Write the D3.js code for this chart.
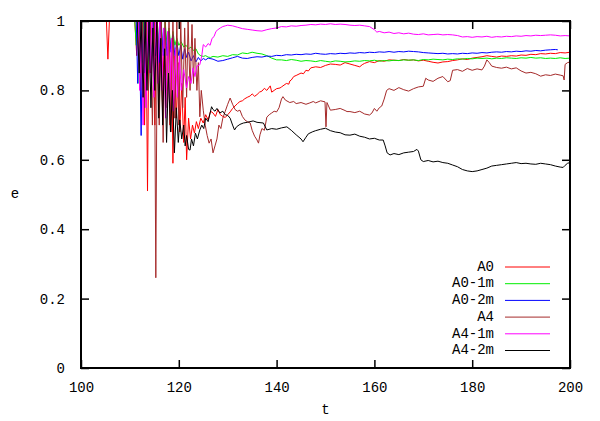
<!DOCTYPE html>
<html><head><meta charset="utf-8">
<script src="https://cdn.jsdelivr.net/npm/d3@7"></script>
<style>body{margin:0;background:#fff}svg{display:block}text{font-family:"Liberation Mono","DejaVu Sans Mono",monospace;font-size:14px;fill:#000}</style>
</head><body><svg id="c" width="600" height="421"></svg>
<script>
const xTicks = [100, 120, 140, 160, 180, 200];
const yTicks = [0, 0.2, 0.4, 0.6, 0.8, 1];
const yTickLabels = ["0", "0.2", "0.4", "0.6", "0.8", "1"];
const seriesNames = ["A0", "A0-1m", "A0-2m", "A4", "A4-1m", "A4-2m"];
const seriesColors = ["#ff0000", "#00ee00", "#0000ff", "#a52a2a", "#ff00ff", "#000000"];

const A0 = [[105.2,1],[105.5,0.89],[105.8,1],[111,1],[111.4,0.9],[111.8,1],[112.2,0.8],[112.6,1],[113,0.7],[113.3,1],[113.6,0.51],[113.9,1],[114.3,0.85],[114.7,1],[115.1,0.7],[115.5,1],[115.9,0.8],[116.3,1],[116.7,0.72],[117,0.98],[117.4,0.8],[117.8,0.95],[118.2,0.7],[118.5,0.93],[118.8,0.59],[119.1,0.9],[119.5,0.72],[119.9,0.88],[120.2,0.68],[120.6,0.82],[121,0.65],[121.3,0.78],[121.6,0.6],[122,0.72],[122.4,0.66],[122.8,0.7],[123.2,0.677],[123.6,0.71],[124,0.69],[124.5,0.72],[125,0.706],[125.5,0.73],[126,0.715],[126.5,0.74],[127,0.735],[127.5,0.725],[128,0.745],[128.5,0.73],[129,0.725],[129.5,0.722],[130,0.73],[130.5,0.738],[131,0.748],[131.5,0.755],[132,0.762],[132.5,0.768],[133,0.77],[133.5,0.776],[134,0.78],[134.6,0.784],[135,0.79],[135.5,0.783],[136,0.788],[136.5,0.795],[137,0.798],[137.5,0.806],[138,0.8],[138.7,0.813],[139,0.795],[139.5,0.8],[140,0.805],[140.7,0.807],[141,0.81],[142,0.82],[142.5,0.818],[142.7,0.827],[143,0.83],[143.5,0.84],[144,0.843],[145,0.85],[145.5,0.848],[146,0.858],[146.5,0.856],[147,0.865],[148,0.868],[149,0.866],[150,0.872],[151,0.876],[152,0.875],[153,0.873],[154,0.88],[155,0.876],[156,0.872],[157,0.868],[157.5,0.874],[158,0.878],[159,0.883],[160,0.88],[161,0.886],[162,0.884],[163,0.888],[164,0.887],[165,0.886],[166,0.889],[167,0.887],[168,0.888],[169,0.885],[170,0.887],[171,0.884],[172,0.881],[173,0.879],[174,0.882],[175,0.883],[176,0.886],[177,0.888],[178,0.891],[179,0.889],[180,0.893],[181,0.895],[182,0.897],[183,0.9],[184,0.898],[185,0.896],[186,0.899],[187,0.898],[188,0.9],[189,0.899],[190,0.902],[191,0.901],[192,0.904],[193,0.903],[194,0.906],[195,0.905],[196,0.907],[197,0.906],[198,0.909],[199,0.908],[200,0.91]];

const A0_1m = [[111,1],[111.3,0.93],[111.6,1],[111.9,0.82],[112.2,1],[112.5,0.88],[112.8,1],[113.1,0.9],[113.4,1],[113.8,0.86],[114.1,1],[114.5,0.9],[114.8,1],[115.2,0.92],[115.6,1],[116,0.9],[116.4,0.98],[116.8,0.91],[117.2,1],[117.6,0.93],[118,0.98],[118.4,0.92],[118.8,0.97],[119.2,0.93],[119.6,0.95],[120,0.93],[120.5,0.94],[121,0.925],[121.5,0.93],[122,0.92],[122.5,0.925],[123,0.915],[123.5,0.92],[124,0.905],[124.5,0.9],[125,0.898],[125.5,0.9],[126,0.896],[126.5,0.895],[127,0.898],[128,0.896],[129,0.9],[130,0.898],[131,0.903],[132,0.902],[133,0.908],[134,0.906],[135,0.91],[136,0.907],[137,0.905],[138,0.9],[139,0.893],[140,0.888],[141,0.888],[142,0.886],[143,0.889],[144,0.887],[145,0.884],[146,0.886],[147,0.885],[148,0.883],[149,0.886],[150,0.884],[151,0.882],[152,0.885],[153,0.884],[154,0.882],[155,0.883],[156,0.885],[157,0.884],[158,0.886],[159,0.885],[160,0.887],[161,0.884],[162,0.886],[163,0.885],[164,0.887],[165,0.886],[166,0.888],[167,0.887],[168,0.888],[169,0.886],[170,0.889],[171,0.888],[172,0.89],[173,0.889],[174,0.888],[175,0.89],[176,0.889],[177,0.891],[178,0.89],[179,0.892],[180,0.891],[181,0.893],[182,0.892],[183,0.893],[184,0.891],[185,0.893],[186,0.892],[187,0.894],[188,0.893],[189,0.892],[190,0.894],[191,0.893],[192,0.895],[193,0.893],[194,0.894],[195,0.892],[196,0.893],[197,0.892],[198,0.894],[199,0.892],[200,0.893]];

const A0_2m = [[111.3,1],[111.6,0.82],[111.9,1],[112.3,0.67],[112.6,1],[112.9,0.85],[113.2,1],[113.6,0.88],[114,1],[114.4,0.86],[114.8,1],[115.2,0.9],[115.6,1],[116,0.88],[116.4,1],[116.8,0.9],[117.2,0.98],[117.6,0.9],[118,0.97],[118.4,0.91],[118.8,0.96],[119.2,0.9],[119.6,0.94],[120,0.9],[120.4,0.93],[120.8,0.89],[121.2,0.92],[121.6,0.895],[122,0.91],[122.5,0.885],[123,0.9],[123.5,0.882],[124,0.895],[124.5,0.885],[125,0.892],[125.5,0.888],[126,0.893],[127,0.89],[128,0.884],[129,0.886],[130,0.89],[131,0.894],[132,0.898],[133,0.893],[134,0.892],[135,0.895],[136,0.897],[137,0.896],[138,0.899],[139,0.898],[140,0.901],[141,0.9],[142,0.903],[143,0.902],[144,0.904],[145,0.903],[146,0.905],[147,0.904],[148,0.907],[149,0.905],[150,0.904],[151,0.906],[152,0.905],[153,0.907],[154,0.906],[155,0.908],[156,0.907],[157,0.909],[158,0.908],[159,0.91],[160,0.909],[161,0.911],[162,0.91],[163,0.912],[164,0.91],[165,0.912],[166,0.911],[167,0.913],[168,0.912],[169,0.911],[170,0.909],[171,0.908],[172,0.907],[173,0.906],[174,0.907],[175,0.905],[176,0.906],[177,0.905],[178,0.907],[179,0.906],[180,0.908],[181,0.907],[182,0.909],[183,0.908],[184,0.91],[185,0.911],[186,0.91],[187,0.912],[188,0.911],[189,0.913],[190,0.912],[191,0.914],[192,0.913],[193,0.915],[194,0.914],[195,0.916],[196,0.917],[197,0.918],[197.5,0.917]];

const A4 = [[111.8,1],[112.2,0.85],[112.6,1],[113,0.75],[113.4,1],[113.8,0.8],[114.2,1],[114.6,0.7],[115,1],[115.3,0.26],[115.6,1],[116,0.7],[116.4,1],[116.8,0.65],[117.2,1],[117.6,0.75],[118,1],[118.4,0.68],[118.8,1],[119.2,0.72],[119.6,1],[120,0.7],[120.4,1],[120.8,0.75],[121.2,0.98],[121.6,0.78],[121.9,1],[122.3,0.8],[122.7,0.99],[123,0.82],[123.3,0.95],[123.7,0.8],[124,0.88],[124.3,0.724],[124.6,0.8],[125,0.743],[125.4,0.7],[125.8,0.67],[126.2,0.648],[126.6,0.66],[127,0.62],[127.4,0.64],[127.8,0.66],[128.2,0.7],[128.6,0.69],[129,0.72],[129.5,0.74],[130,0.76],[130.5,0.778],[131,0.76],[131.5,0.745],[132,0.74],[132.5,0.743],[133,0.725],[133.5,0.715],[134,0.71],[134.6,0.706],[135,0.685],[135.5,0.668],[136,0.657],[136.3,0.648],[136.6,0.672],[137,0.69],[137.5,0.685],[138,0.723],[138.5,0.73],[139,0.735],[139.5,0.74],[140,0.738],[140.5,0.75],[141,0.775],[141.3,0.782],[141.8,0.772],[142.7,0.765],[143.5,0.768],[144,0.762],[145,0.765],[146,0.76],[146.8,0.764],[147.5,0.768],[148,0.764],[149,0.77],[149.9,0.767],[150.1,0.695],[150.3,0.765],[151,0.743],[152,0.745],[153,0.748],[154,0.742],[154.4,0.739],[155,0.739],[156,0.736],[157,0.74],[158,0.732],[159,0.729],[159.5,0.735],[160,0.748],[160.5,0.74],[161,0.75],[161.5,0.755],[162,0.775],[162.5,0.8],[163,0.805],[164,0.8],[165,0.808],[166,0.802],[167,0.798],[168,0.805],[169,0.81],[170,0.812],[170.5,0.835],[171,0.83],[172,0.826],[173,0.835],[174,0.84],[175,0.825],[175.5,0.828],[176,0.858],[177,0.86],[178,0.855],[179,0.863],[180,0.858],[181,0.862],[182,0.859],[182.5,0.87],[183,0.888],[183.5,0.88],[184,0.87],[185,0.866],[186,0.864],[187,0.867],[188,0.862],[189,0.865],[190,0.856],[191,0.85],[192,0.852],[193,0.848],[194,0.841],[195,0.845],[196,0.843],[197,0.847],[198,0.844],[198.6,0.842],[198.8,0.83],[199,0.875],[199.5,0.88],[200,0.882]];

const A4_1m = [[111.7,1],[112,0.8],[112.3,1],[112.7,0.7],[113,1],[113.3,0.75],[113.7,1],[114.1,0.85],[114.5,1],[114.9,0.78],[115.3,1],[115.7,0.82],[116.1,1],[116.5,0.8],[116.9,0.98],[117.3,0.72],[117.7,0.97],[118.1,0.76],[118.5,0.95],[118.9,0.74],[119.3,0.92],[119.7,0.78],[120.1,0.9],[120.5,0.8],[121,0.86],[121.6,0.807],[122,0.84],[122.5,0.82],[122.9,0.865],[123.3,0.84],[123.7,0.87],[124.3,0.874],[124.7,0.9],[125,0.932],[125.5,0.925],[126,0.935],[126.4,0.93],[126.8,0.95],[127.2,0.955],[127.6,0.97],[128,0.975],[128.5,0.98],[129,0.984],[129.5,0.986],[130,0.988],[131,0.986],[132,0.982],[133,0.978],[134,0.976],[135,0.974],[136,0.972],[137,0.971],[138,0.975],[139,0.978],[140,0.98],[141,0.984],[142,0.983],[143,0.986],[144,0.985],[145,0.987],[146,0.988],[147,0.99],[148,0.989],[149,0.991],[150,0.99],[151,0.992],[152,0.99],[153,0.991],[154,0.99],[155,0.988],[156,0.987],[157,0.988],[158,0.986],[159,0.984],[160,0.975],[160.5,0.968],[161,0.97],[162,0.966],[163,0.968],[164,0.964],[165,0.966],[166,0.963],[167,0.965],[168,0.962],[169,0.961],[170,0.963],[171,0.96],[172,0.961],[173,0.962],[174,0.96],[175,0.961],[176,0.96],[177,0.958],[178,0.954],[179,0.955],[180,0.953],[181,0.955],[182,0.954],[183,0.956],[184,0.953],[185,0.955],[186,0.954],[187,0.956],[188,0.955],[189,0.957],[190,0.956],[191,0.958],[192,0.957],[193,0.959],[194,0.958],[195,0.959],[196,0.96],[197,0.959],[198,0.957],[199,0.958],[200,0.957]];

const A4_2m = [[111.5,1],[111.9,0.85],[112.3,1],[112.7,0.78],[113.1,1],[113.5,0.8],[113.9,1],[114.3,0.75],[114.7,0.98],[115.1,0.8],[115.5,1],[115.9,0.72],[116.3,0.95],[116.7,0.7],[117.1,0.92],[117.5,0.65],[117.9,0.85],[118.3,0.68],[118.7,0.8],[119.1,0.62],[119.5,0.75],[119.9,0.65],[120.2,0.715],[120.6,0.66],[121,0.7],[121.3,0.64],[121.6,0.67],[122,0.63],[122.3,0.628],[122.6,0.66],[123,0.64],[123.4,0.677],[123.8,0.66],[124.3,0.686],[124.7,0.7],[125.1,0.69],[125.5,0.72],[126,0.71],[126.4,0.735],[126.7,0.753],[127,0.745],[127.4,0.74],[127.8,0.748],[128.4,0.735],[129,0.74],[129.5,0.73],[130,0.728],[130.5,0.72],[131,0.7],[131.4,0.686],[131.8,0.695],[132.5,0.702],[133.2,0.706],[134,0.708],[135.2,0.712],[136,0.708],[137.3,0.706],[138,0.686],[139,0.69],[140,0.688],[141,0.692],[142.1,0.695],[143,0.685],[144,0.672],[145,0.66],[145.4,0.652],[146,0.665],[146.5,0.675],[147.4,0.681],[148,0.684],[149,0.688],[150,0.691],[151,0.684],[152,0.68],[153,0.678],[154,0.672],[155,0.671],[156,0.674],[157,0.668],[158,0.665],[159,0.66],[160,0.662],[161,0.657],[161.8,0.657],[162.2,0.64],[162.6,0.62],[163.2,0.614],[164,0.618],[165,0.615],[166,0.62],[167,0.622],[168,0.624],[168.7,0.63],[169,0.625],[169.5,0.6],[170,0.595],[171,0.598],[172,0.594],[173,0.596],[174,0.592],[175,0.59],[176,0.585],[177,0.58],[178,0.572],[179,0.568],[180,0.566],[181,0.568],[182,0.572],[183,0.576],[184,0.582],[185,0.584],[186,0.586],[187,0.588],[188,0.59],[189,0.592],[190,0.589],[191,0.59],[192,0.588],[193,0.587],[194,0.59],[195,0.588],[196,0.586],[197,0.582],[198,0.579],[198.6,0.578],[199,0.584],[199.5,0.59],[200,0.592]];

const seriesData = [A0, A0_1m, A0_2m, A4, A4_1m, A4_2m];

const svg = d3.select("#c");
svg.append("rect").attr("width",600).attr("height",421).attr("fill","#fff");
const L = 81, R = 570, T = 21, B = 368;
const x = d3.scaleLinear().domain([100,200]).range([L,R]);
const y = d3.scaleLinear().domain([0,1]).range([B,T]);

svg.append("defs").append("clipPath").attr("id","clip")
  .append("rect").attr("x",L).attr("y",T).attr("width",R-L).attr("height",B-T);

const line = d3.line().x(d=>x(d[0])).y(d=>y(d[1]));
const g = svg.append("g").attr("clip-path","url(#clip)");
seriesData.forEach((s,i)=>{
  g.append("path").attr("d",line(s)).attr("fill","none")
    .attr("stroke",seriesColors[i]).attr("stroke-width",1).attr("stroke-linejoin","round");
});

// axes with inward ticks
const axB = d3.axisBottom(x).tickValues(xTicks).tickSize(-8).tickPadding(14).tickFormat(d3.format("d"));
const axT = d3.axisTop(x).tickValues(xTicks).tickSize(-8).tickFormat("");
const axL = d3.axisLeft(y).tickValues(yTicks).tickSize(-8).tickPadding(16).tickFormat((d,i)=>yTickLabels[i]);
const axR = d3.axisRight(y).tickValues(yTicks).tickSize(-8).tickFormat("");
function style(sel){ sel.select(".domain").remove(); sel.selectAll("line").attr("stroke","#000").attr("stroke-width",1.5); sel.selectAll("text").attr("font-family",null).attr("font-size",null).attr("fill","#000"); }
svg.append("g").attr("transform",`translate(0,${B})`).call(axB).call(style);
svg.append("g").attr("transform",`translate(0,${T})`).call(axT).call(style);
svg.append("g").attr("transform",`translate(${L},0)`).call(axL).call(style);
svg.append("g").attr("transform",`translate(${R},0)`).call(axR).call(style);

svg.append("rect").attr("x",L).attr("y",T).attr("width",R-L).attr("height",B-T)
  .attr("fill","none").attr("stroke","#000").attr("stroke-width",2);

svg.append("text").attr("x",(L+R)/2).attr("y",414).attr("text-anchor","middle").text("t");
svg.append("text").attr("x",15).attr("y",(T+B)/2).attr("text-anchor","middle").attr("dominant-baseline","middle").text("e");

// legend
const leg = svg.append("g");
seriesNames.forEach((n,i)=>{
  const yy = 267 + i*16.7;
  leg.append("text").attr("x",494).attr("y",yy).attr("text-anchor","end").attr("dominant-baseline","middle").text(n);
  leg.append("line").attr("x1",505).attr("x2",550).attr("y1",yy).attr("y2",yy)
    .attr("stroke",seriesColors[i]).attr("stroke-width",1);
});
</script></body></html>
